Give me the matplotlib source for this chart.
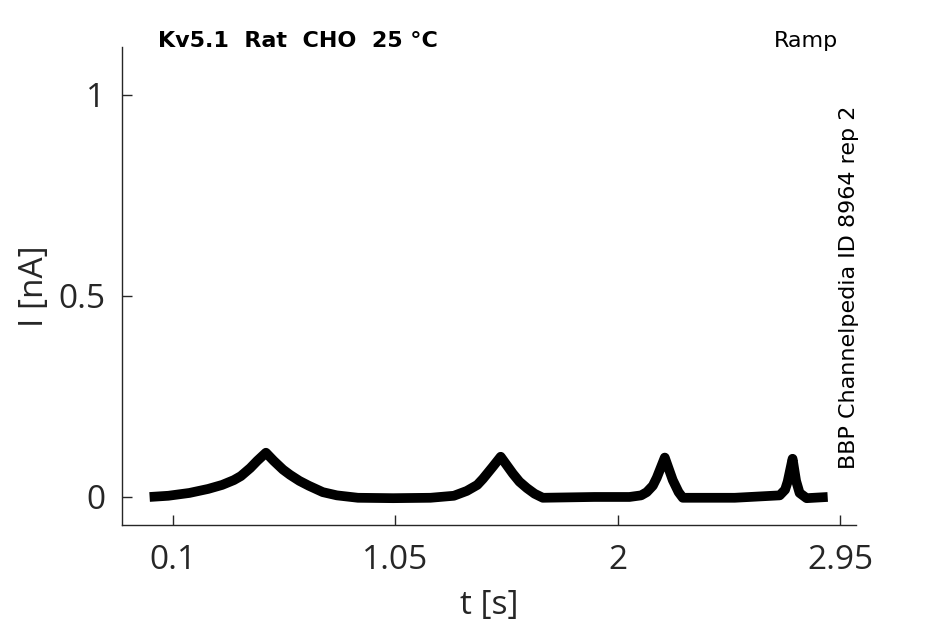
import matplotlib
matplotlib.use("Agg")
import matplotlib.pyplot as plt

# Data (time in s, current in nA)
t_s = [0.00, 0.08, 0.17, 0.25, 0.31, 0.36, 0.39, 0.43, 0.46, 0.497,
       0.53, 0.57, 0.60, 0.64, 0.68, 0.74, 0.80, 0.89, 1.04, 1.20, 1.30,
       1.355, 1.40, 1.424, 1.466, 1.50, 1.552, 1.58, 1.612, 1.645, 1.68,
       1.90, 2.05, 2.10, 2.124, 2.150, 2.167, 2.201, 2.235, 2.260, 2.278,
       2.50, 2.692, 2.715, 2.726, 2.747, 2.762, 2.777, 2.807, 2.897]
i_nA = [0.000, 0.003, 0.010, 0.020, 0.030, 0.042, 0.052, 0.072, 0.090, 0.110,
        0.090, 0.068, 0.055, 0.040, 0.028, 0.012, 0.004, -0.002, -0.003, -0.002, 0.003,
        0.015, 0.030, 0.045, 0.075, 0.100, 0.058, 0.038, 0.022, 0.008, -0.002,
        0.000, 0.000, 0.004, 0.012, 0.028, 0.048, 0.098, 0.042, 0.012, -0.002,
        -0.002, 0.004, 0.018, 0.038, 0.095, 0.040, 0.010, -0.003, 0.000]

x_ticks = [0.1, 1.05, 2, 2.95]
x_tick_labels = ["0.1", "1.05", "2", "2.95"]
y_ticks = [0, 0.5, 1]
y_tick_labels = ["0", "0.5", "1"]

title_left = "Kv5.1  Rat  CHO  25 °C"
title_right = "Ramp"
side_text = "BBP Channelpedia ID 8964 rep 2"

plt.rcParams['font.family'] = ['Open Sans', 'DejaVu Sans']
grey = '#262626'

fig = plt.figure(figsize=(9.45, 6.24), dpi=100)
ax = fig.add_axes([122/945, 1 - 525/624, (856-122)/945, (525-47)/624])

ax.plot(t_s, i_nA, color='black', linewidth=7, solid_joinstyle='round',
        solid_capstyle='butt')

ax.set_xlim(-0.118, 3.018)
ax.set_ylim(-0.0697, 1.119)
ax.set_xticks(x_ticks)
ax.set_xticklabels(x_tick_labels)
ax.set_yticks(y_ticks)
ax.set_yticklabels(y_tick_labels)

for s in ['top', 'right']:
    ax.spines[s].set_visible(False)
for s in ['left', 'bottom']:
    ax.spines[s].set_color(grey)
    ax.spines[s].set_linewidth(1.0)

ax.tick_params(direction='in', length=7, width=1, colors=grey,
               labelsize=24, pad=14)
ax.tick_params(axis='y', pad=12)

ax.set_xlabel("t [s]", fontsize=24, color=grey, labelpad=8)
ax.set_ylabel("I [nA]", fontsize=24, color=grey, labelpad=5)

fig.text(158/945, 1 - 47/624, title_left, fontsize=16, fontweight='bold',
         family=['DejaVu Sans'], color='black', ha='left', va='baseline')
fig.text(838/945, 1 - 47/624, title_right, fontsize=16,
         family=['DejaVu Sans'], color='black', ha='right', va='baseline')
fig.text(849/945, 1 - 287/624, side_text, fontsize=16, rotation=90,
         family=['DejaVu Sans'], color='black', ha='center', va='center')

fig.savefig("out.png", dpi=100)
